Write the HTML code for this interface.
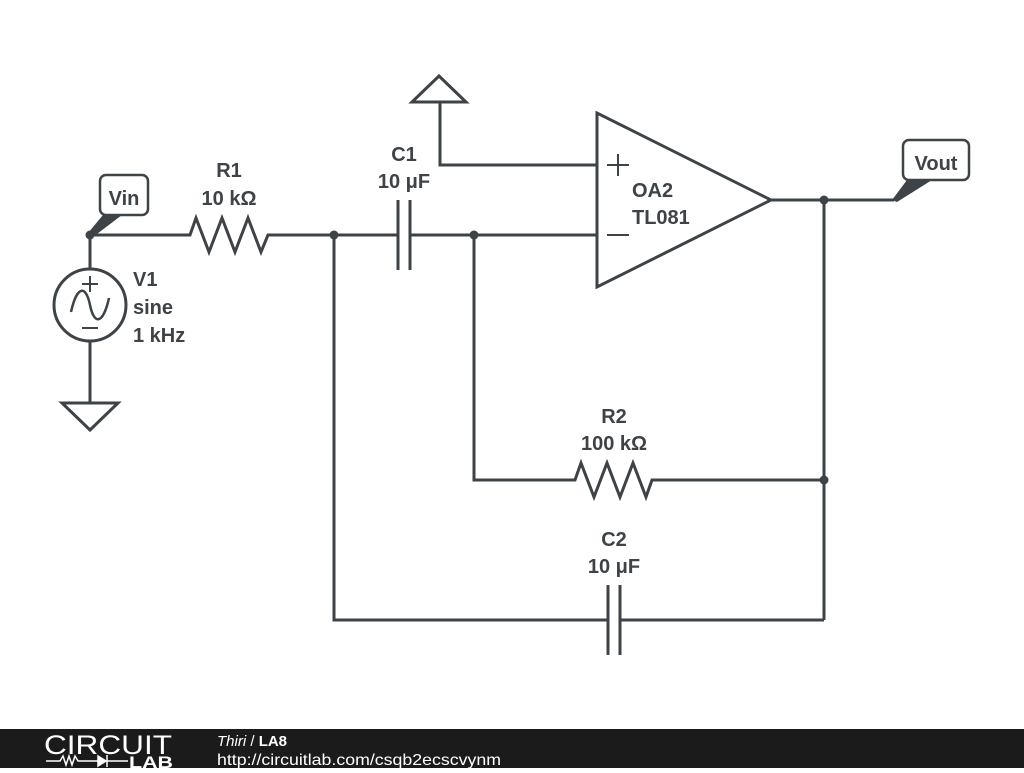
<!DOCTYPE html>
<html><head><meta charset="utf-8"><style>
body{margin:0;width:1024px;height:768px;background:#fff;overflow:hidden}
svg text{font-family:"Liberation Sans",sans-serif;font-weight:bold;fill:#3d4346}
</style></head><body>
<svg width="1024" height="768" xmlns="http://www.w3.org/2000/svg">
<g stroke="#3d4346" stroke-width="3" fill="none" stroke-linejoin="miter">
<polyline points="90,235 190,235 196,218 209,252 222,218 235,252 248,218 261,252 268,235 334,235 398,235"/>
<line x1="398" y1="200" x2="398" y2="270"/>
<line x1="410" y1="200" x2="410" y2="270"/>
<line x1="410" y1="235" x2="597" y2="235"/>
<line x1="90" y1="235" x2="90" y2="269"/>
<circle cx="90" cy="305" r="36"/>
<line x1="90" y1="341" x2="90" y2="403"/>
<polygon points="62,403 118,403 90,430"/>
<path d="M71,312 C77,285 86,285 90,305 C94,325 103,325 109,298" stroke-width="2.5"/>
<line x1="82" y1="284" x2="98" y2="284" stroke-width="2"/>
<line x1="90" y1="276" x2="90" y2="292" stroke-width="2"/>
<line x1="82" y1="328" x2="98" y2="328" stroke-width="2"/>
<polygon points="597,113 597,287 771,200"/>
<line x1="607" y1="165" x2="629" y2="165" stroke-width="2"/>
<line x1="618" y1="154" x2="618" y2="176" stroke-width="2"/>
<line x1="607" y1="235" x2="629" y2="235" stroke-width="2"/>
<polyline points="597,165 440,165 440,102"/>
<polygon points="412,102 466,102 439,76"/>
<line x1="771" y1="200" x2="894" y2="200"/>
<line x1="824" y1="200" x2="824" y2="620"/>
<polyline points="474,235 474,480 575,480 581,463 594,497 607,463 620,497 633,463 646,497 652,480 824,480"/>
<polyline points="334,235 334,620 608,620"/>
<line x1="608" y1="585" x2="608" y2="655"/>
<line x1="620" y1="585" x2="620" y2="655"/>
<line x1="620" y1="620" x2="824" y2="620"/>
<rect x="100" y="175" width="48" height="40" rx="6" fill="#fff" stroke-width="2.5"/>
<rect x="903" y="140" width="66" height="40" rx="6" fill="#fff" stroke-width="2.5"/>
</g>
<g fill="#3d4346">
<polygon points="88,233 103,215 122,215 93,237"/>
<polygon points="892,200 907,180 932,180 897,202"/>
<circle cx="90" cy="235" r="4.5"/>
<circle cx="334" cy="235" r="4.5"/>
<circle cx="474" cy="235" r="4.5"/>
<circle cx="824" cy="200" r="4.5"/>
<circle cx="824" cy="480" r="4.5"/>
</g>
<g font-size="20">
<text x="124" y="205" text-anchor="middle">Vin</text>
<text x="936" y="170" text-anchor="middle">Vout</text>
<text x="229" y="177" text-anchor="middle">R1</text>
<text x="229" y="205" text-anchor="middle">10 kΩ</text>
<text x="404" y="161" text-anchor="middle">C1</text>
<text x="404" y="188" text-anchor="middle">10 μF</text>
<text x="133" y="286">V1</text>
<text x="133" y="314">sine</text>
<text x="133" y="342">1 kHz</text>
<text x="632" y="197">OA2</text>
<text x="632" y="224">TL081</text>
<text x="614" y="423" text-anchor="middle">R2</text>
<text x="614" y="450" text-anchor="middle">100 kΩ</text>
<text x="614" y="546" text-anchor="middle">C2</text>
<text x="614" y="573" text-anchor="middle">10 μF</text>
</g>
<rect x="0" y="729" width="1024" height="39" fill="#1b1b1b"/>
<text x="44" y="754" style="font-weight:normal;fill:#fff" font-size="27" textLength="128" lengthAdjust="spacingAndGlyphs">CIRCUIT</text>
<g stroke="#fff" stroke-width="1.5" fill="none">
<polyline points="46,761 60,761 63,756 66,765 69,756 72,765 75,756 78,761 98,761"/>
<polygon points="98,756 98,766 106,761" fill="#fff"/>
<line x1="107" y1="755" x2="107" y2="767"/>
<line x1="107" y1="761" x2="128" y2="761"/>
</g>
<text x="129" y="768" style="fill:#fff" font-size="17" textLength="44" lengthAdjust="spacingAndGlyphs">LAB</text>
<text x="217" y="746" style="fill:#fff;font-weight:normal;font-style:italic" font-size="15">Thiri <tspan style="font-style:normal">/</tspan> <tspan style="font-style:normal;font-weight:bold">LA8</tspan></text>
<text x="217" y="765" style="fill:#fff;font-weight:normal" font-size="16" textLength="284" lengthAdjust="spacingAndGlyphs">http://circuitlab.com/csqb2ecscvynm</text>
</svg>
</body></html>
